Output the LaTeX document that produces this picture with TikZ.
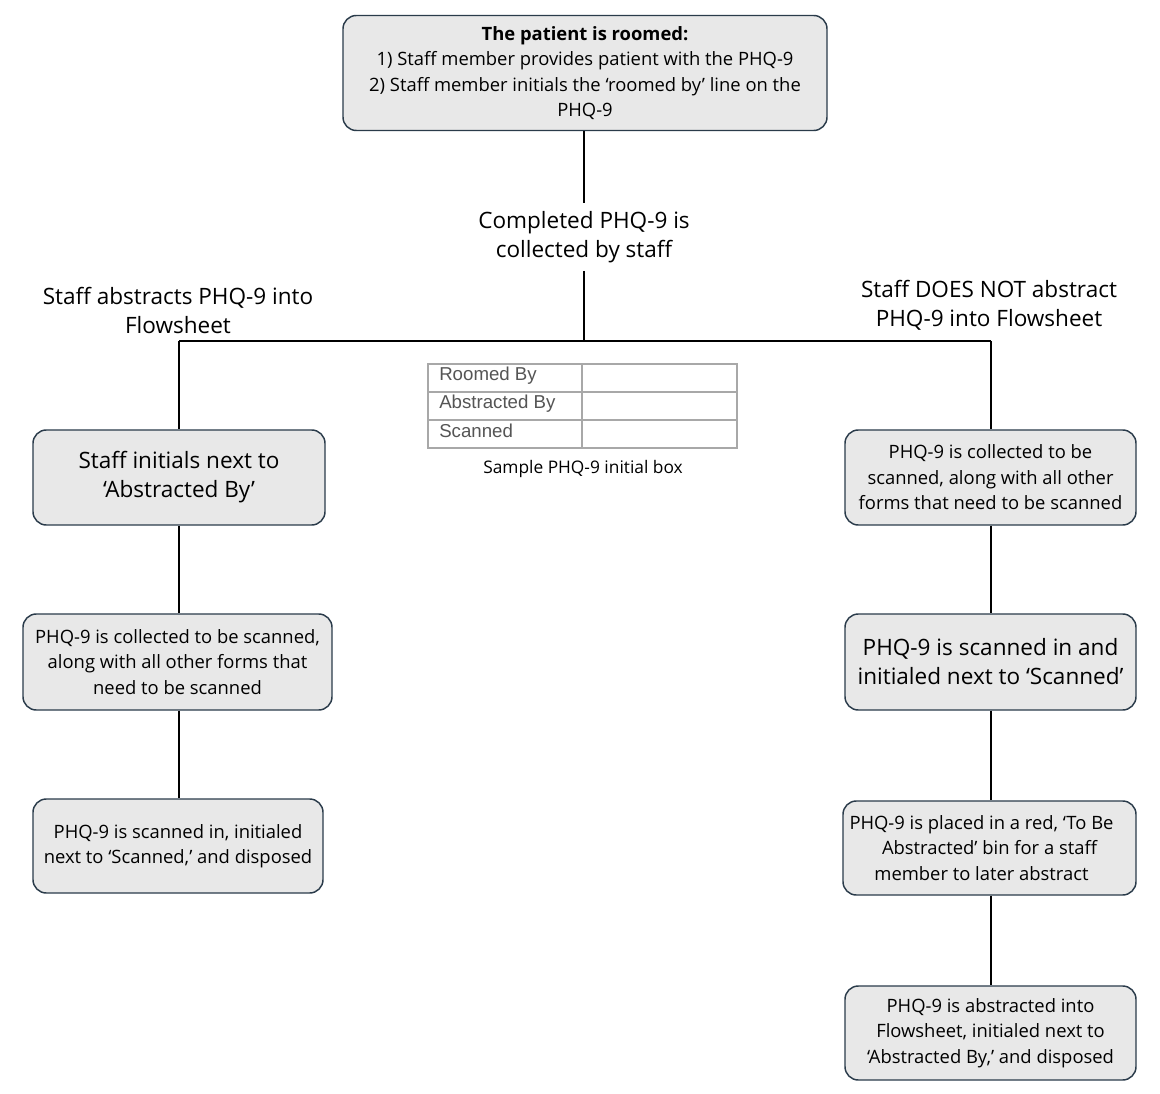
\documentclass[tikz,border=0pt]{standalone}
\usepackage{fontspec}
\setmainfont{Open Sans}
\newfontfamily\arialfont{Liberation Sans}
\definecolor{boxborder}{HTML}{2A3B4A}
\definecolor{boxfill}{HTML}{E8E8E8}
\definecolor{tabline}{HTML}{A8A8A8}
\definecolor{tabtext}{HTML}{555555}
\tikzset{
  flowbox/.style={draw=boxborder, fill=boxfill, line width=1.1pt, rounded corners=10pt,
    align=center, inner sep=0pt, text=black},
  smalltext/.style={font=\fontsize{13.8}{19.1}\selectfont},
  bigtext/.style={font=\fontsize{16.9}{21.75}\selectfont},
  conn/.style={draw=black, line width=0.8pt},
  tabgrid/.style={draw=tabline, line width=1.1pt},
  tablabel/.style={anchor=west, text=tabtext, font=\arialfont\fontsize{14}{15}\selectfont, inner sep=0pt},
}
\begin{document}
\begin{tikzpicture}[x=0.75pt, y=-0.75pt]
\useasboundingbox[fill=white] (0,0) rectangle (1160,1094);

% top box
\node[flowbox, smalltext, minimum width=484*0.75pt, minimum height=115*0.75pt] (top) at (585,73)
  {\textbf{The patient is roomed:}\\1) Staff member provides patient with the PHQ-9\\2) Staff member initials the ‘roomed by’ line on the\\PHQ-9};
\path (top.south);

% middle label
\node[bigtext, align=center, inner sep=0pt, minimum height=67*0.75pt] (mid) at (584,237)
  {Completed PHQ-9 is\\collected by staff};

\coordinate (junc) at (584,341);

% branch labels
\node[bigtext, align=center, inner sep=0pt] (lbranch) at (178,310) {Staff abstracts PHQ-9 into\\Flowsheet};
\node[bigtext, align=center, inner sep=0pt] (rbranch) at (989,305.5) {Staff DOES NOT abstract\\PHQ-9 into Flowsheet};

% left column
\node[flowbox, bigtext, minimum width=292*0.75pt, minimum height=95*0.75pt] (l1) at (179,477.5)
  {Staff initials next to\\‘Abstracted By’};
\node[flowbox, smalltext, minimum width=309*0.75pt, minimum height=96*0.75pt] (l2) at (177.5,662)
  {PHQ-9 is collected to be scanned,\\along with all other forms that\\need to be scanned};
\node[flowbox, smalltext, minimum width=290*0.75pt, minimum height=94*0.75pt] (l3) at (178,846)
  {PHQ-9 is scanned in, initialed\\next to ‘Scanned,’ and disposed};

% right column
\node[flowbox, smalltext, minimum width=291*0.75pt, minimum height=95*0.75pt] (r1) at (990.5,477.5)
  {PHQ-9 is collected to be\\scanned, along with all other\\forms that need to be scanned};
\node[flowbox, bigtext, minimum width=291*0.75pt, minimum height=96*0.75pt] (r2) at (990.5,662)
  {PHQ-9 is scanned in and\\initialed next to ‘Scanned’};
\node[flowbox, smalltext, minimum width=293*0.75pt, minimum height=94*0.75pt] (r3) at (989.5,848)
  {PHQ-9 is placed in a red, ‘To Be\hspace*{12pt}\\Abstracted’ bin for a staff\hspace*{12pt}\\member to later abstract\hspace*{12pt}};
\node[flowbox, smalltext, minimum width=291*0.75pt, minimum height=94*0.75pt] (r4) at (990.5,1033)
  {PHQ-9 is abstracted into\\Flowsheet, initialed next to\\‘Abstracted By,’ and disposed};

% connectors
\draw[conn] (top.south -| mid) -- (mid.north);
\draw[conn] (mid.south) -- (junc);
\coordinate (jl) at (179,341);
\coordinate (jr) at (991,341);
\draw[conn] (jl) -- (jr);
\draw[conn] (jl) -- (jl |- l1.north);
\draw[conn] (jr) -- (jr |- r1.north);
\draw[conn] (jl |- l1.south) -- (jl |- l2.north);
\draw[conn] (jl |- l2.south) -- (jl |- l3.north);
\draw[conn] (jr |- r1.south) -- (jr |- r2.north);
\draw[conn] (jr |- r2.south) -- (jr |- r3.north);
\draw[conn] (jr |- r3.south) -- (jr |- r4.north);

% sample table
\draw[tabgrid] (428,364) rectangle (737,448);
\draw[tabgrid] (428,392) -- (737,392);
\draw[tabgrid] (428,420) -- (737,420);
\draw[tabgrid] (582,364) -- (582,448);
\node[tablabel] (t1) at (439,376) {Roomed By};
\node[tablabel] (t2) at (439,404) {Abstracted By};
\node[tablabel] (t3) at (439,431) {Scanned};
\node[font=\fontsize{13}{15}\selectfont, inner sep=0pt] (cap) at (583,469) {Sample PHQ-9 initial box};
\end{tikzpicture}
\end{document}
